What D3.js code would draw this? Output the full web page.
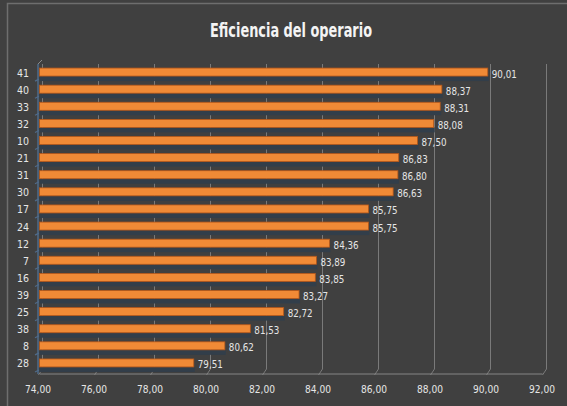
<!DOCTYPE html>
<html>
<head>
<meta charset="utf-8">
<script src="https://cdn.jsdelivr.net/npm/d3@7"></script>
<style>
  html, body { margin: 0; padding: 0; background: #404040; }
  svg { display: block; }
  text { font-family: "DejaVu Sans Condensed", "DejaVu Sans", sans-serif; font-stretch: condensed; }
</style>
</head>
<body>
<script>
// Operator efficiency by operator id, sorted descending
const categories = ["41","40","33","32","10","21","31","30","17","24","12","7","16","39","25","38","8","28"];
const values = [90.01,88.37,88.31,88.08,87.50,86.83,86.80,86.63,85.75,85.75,84.36,83.89,83.85,83.27,82.72,81.53,80.62,79.51];
const tickValues = [74,76,78,80,82,84,86,88,90,92];
const title = "Eficiencia del operario";

const W = 567, H = 406;
const svg = d3.select("body").append("svg").attr("width", W).attr("height", H);

// chart frame
svg.append("rect").attr("width", W).attr("height", H).attr("fill", "#404040");
svg.append("path")
  .attr("d", `M7.5,${H} L7.5,3.5 L${W},3.5`)
  .attr("fill", "none").attr("stroke", "#6e6e6e").attr("stroke-width", 1.5);

const fmt = v => d3.format(".2f")(v).replace(".", ",");

const x = d3.scaleLinear().domain([74, 92]).range([39.5, 543.5]);
const y = d3.scaleBand().domain(categories).range([64, 372]).paddingInner(0).paddingOuter(0);

const depthX = 3, floorY = 374, backBottom = 369;

// back-wall gridlines with short floor segments (3D depth)
const grid = svg.append("g").attr("stroke", "#7a7a7a").attr("stroke-width", 1).attr("fill", "none");
tickValues.forEach(t => {
  const xb = x(t) + depthX;
  grid.append("path")
    .attr("d", `M${xb},64 L${xb},${backBottom} L${xb - 4},${floorY + 1}`);
});
// floor edge
grid.append("line").attr("x1", 40).attr("x2", x(92) - 1)
  .attr("y1", floorY).attr("y2", floorY).attr("stroke", "#858585");

// left axis
const yAxis = svg.append("g");
yAxis.append("line").attr("x1", 38).attr("x2", 38).attr("y1", 64).attr("y2", floorY)
  .attr("stroke", "#4f6b8a").attr("stroke-width", 1.5);
yAxis.append("line").attr("x1", 38).attr("x2", 42).attr("y1", 64).attr("y2", 60)
  .attr("stroke", "#8a8a8a");
categories.forEach(c => {
  yAxis.append("line")
    .attr("x1", 35).attr("x2", 39)
    .attr("y1", y(c) + y.bandwidth()).attr("y2", y(c) + y.bandwidth() - 2)
    .attr("stroke", "#4f6b8a").attr("stroke-width", 1.2);
});

// bars: shadow face + orange front
const bars = svg.append("g");
categories.forEach((c, i) => {
  const cy = y(c) + y.bandwidth() / 2;
  bars.append("rect")
    .attr("x", x(74)).attr("y", cy + 3.5)
    .attr("width", x(values[i]) - x(74) + 1).attr("height", 5)
    .attr("fill", "#323e4a");
  bars.append("rect")
    .attr("x", x(74)).attr("y", cy - 4.5)
    .attr("width", x(values[i]) - x(74)).attr("height", 8)
    .attr("fill", "#f08a36").attr("stroke", "#b4571a").attr("stroke-width", 0.8);
});

// value labels
const labels = svg.append("g").attr("fill", "#e6e6e6").attr("font-size", 10);
categories.forEach((c, i) => {
  labels.append("text")
    .attr("x", x(values[i]) + 4)
    .attr("y", y(c) + y.bandwidth() / 2 + 5)
    .attr("textLength", 25).attr("lengthAdjust", "spacingAndGlyphs")
    .text(fmt(values[i]));
});

// category labels
const catLabels = svg.append("g").attr("fill", "#e6e6e6").attr("font-size", 10.5).attr("text-anchor", "end");
categories.forEach(c => {
  catLabels.append("text")
    .attr("x", 29)
    .attr("y", y(c) + y.bandwidth() / 2 + 4)
    .text(c);
});

// x axis tick labels
const xAxis = svg.append("g").attr("transform", `translate(0,${floorY})`);
xAxis.call(d3.axisBottom(x).tickValues(tickValues).tickFormat(fmt).tickSize(0).tickPadding(12));
xAxis.select(".domain").remove();
xAxis.selectAll("text").attr("fill", "#e6e6e6").attr("font-size", 10)
  .attr("font-family", "\"DejaVu Sans Condensed\", \"DejaVu Sans\", sans-serif")
  .attr("textLength", 26).attr("lengthAdjust", "spacingAndGlyphs")
  .attr("dx", -2);

// title
svg.append("text")
  .attr("x", 291).attr("y", 37)
  .attr("text-anchor", "middle")
  .attr("fill", "#f4f4f4")
  .attr("font-size", 19).attr("font-weight", "bold")
  .attr("textLength", 162).attr("lengthAdjust", "spacingAndGlyphs")
  .text(title);
</script>
</body>
</html>
